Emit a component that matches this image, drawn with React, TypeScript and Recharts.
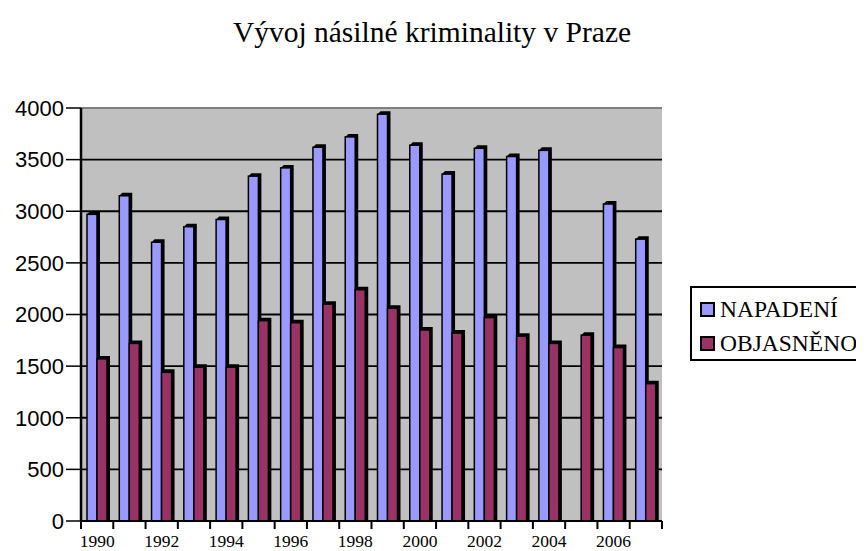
import {
    BarChart,
    Bar,
    XAxis,
    YAxis,
    CartesianGrid,
    Legend,
    ReferenceLine,
    Customized,
} from 'recharts';

const YEARS = [
    '1990', '1991', '1992', '1993', '1994', '1995', '1996', '1997', '1998',
    '1999', '2000', '2001', '2002', '2003', '2004', '2005', '2006', '2007',
];
const NAPADENI = [
    2970, 3150, 2700, 2850, 2920, 3340, 3420, 3620, 3720,
    3940, 3640, 3360, 3610, 3530, 3590, null, 3070, 2730,
];
const OBJASNENO = [
    1570, 1720, 1440, 1490, 1490, 1940, 1920, 2100, 2240,
    2060, 1850, 1820, 1970, 1790, 1720, 1800, 1680, 1330,
];
const Y_TICKS = [0, 500, 1000, 1500, 2000, 2500, 3000, 3500, 4000];
const X_LABELS = ['1990', '1992', '1994', '1996', '1998', '2000', '2002', '2004', '2006'];

const BLUE = '#9999FF';
const MAROON = '#993366';
const WALL = '#C0C0C0';
const SERIF = '"Liberation Serif", "Times New Roman", serif';
const SANS = '"Liberation Sans", Arial, sans-serif';

const data = YEARS.map((year, i) => ({
    year,
    napadeni: NAPADENI[i],
    objasneno: OBJASNENO[i],
}));

// flat front face + black depth, like the old Excel 3D columns
function Bar3D(props: any) {
    const {x, y, width, height, fill} = props;
    if (!width || !height || height <= 0) return null;
    const d = 3;
    const pts = [
        [x, y],
        [x + d, y - d],
        [x + width + d, y - d],
        [x + width + d, y + height],
        [x + width, y + height],
    ]
        .map((p) => p.join(','))
        .join(' ');
    return (
        <g>
            <polygon points={pts} fill="#000" />
            <rect x={x} y={y} width={width} height={height} fill={fill} stroke="#000" strokeWidth={1.5} />
        </g>
    );
}

function XTick(props: any) {
    const {x, y, payload, index} = props;
    const half = payload && payload.offset ? payload.offset : 581 / 36;
    const showLabel = X_LABELS.includes(String(payload.value));
    return (
        <g>
            {index === 0 && <line x1={x - half} x2={x - half} y1={y} y2={y + 8} stroke="#000" strokeWidth={2} />}
            <line x1={x + half} x2={x + half} y1={y} y2={y + 8} stroke="#000" strokeWidth={2} />
            {showLabel && (
                <text x={x} y={y + 25.5} textAnchor="middle" fontFamily={SERIF} fontSize={17.5} fill="#000">
                    {payload.value}
                </text>
            )}
        </g>
    );
}

function LegendBox() {
    const items = [
        {name: 'NAPADENÍ', color: BLUE},
        {name: 'OBJASNĚNO', color: MAROON},
    ];
    return (
        <div
            style={{
                border: '2px solid #000',
                background: '#fff',
                boxSizing: 'border-box',
                height: 75,
                padding: '4px 0 0 8px',
            }}
        >
            {items.map((it) => (
                <div key={it.name} style={{display: 'flex', alignItems: 'center', height: 34}}>
                    <span
                        style={{
                            width: 11,
                            height: 11,
                            background: it.color,
                            border: '2px solid #000',
                            marginRight: 5,
                        }}
                    />
                    <span style={{fontFamily: SERIF, fontSize: 23.5, color: '#000', lineHeight: '34px', whiteSpace: 'nowrap'}}>
                        {it.name}
                    </span>
                </div>
            ))}
        </div>
    );
}

function Title() {
    return (
        <text x={424} y={34} textAnchor="middle" fontFamily={SERIF} fontSize={29.5} fill="#000">
            Vývoj násilné kriminality v Praze
        </text>
    );
}

export default function App() {
    return (
        <BarChart
            width={856}
            height={543}
            data={data}
            margin={{top: 100, right: 202, left: 0, bottom: 0}}
            barGap={0}
            barSize={10}
        >
            <CartesianGrid vertical={false} fill={WALL} stroke="#000" strokeWidth={1.8} />
            <ReferenceLine y={4000} stroke="#808080" strokeWidth={2} />
            <XAxis
                dataKey="year"
                interval={0}
                tickLine={false}
                tickSize={0}
                tickMargin={0}
                height={30}
                axisLine={{stroke: '#000', strokeWidth: 2}}
                tick={<XTick />}
            />
            <YAxis
                domain={[0, 4000]}
                ticks={Y_TICKS}
                width={73}
                tickSize={15}
                tickMargin={2}
                axisLine={{stroke: '#000', strokeWidth: 2.5}}
                tickLine={{stroke: '#000', strokeWidth: 1.5}}
                tick={{fill: '#000', fontSize: 22, fontFamily: SANS}}
            />
            <Legend
                layout="horizontal"
                align="center"
                verticalAlign="middle"
                content={<LegendBox />}
                wrapperStyle={{left: 682, top: 278, width: 180}}
            />
            <Bar dataKey="napadeni" name="NAPADENÍ" fill={BLUE} shape={<Bar3D />} isAnimationActive={false} />
            <Bar dataKey="objasneno" name="OBJASNĚNO" fill={MAROON} shape={<Bar3D />} isAnimationActive={false} />
            <Customized component={Title} />
        </BarChart>
    );
}
